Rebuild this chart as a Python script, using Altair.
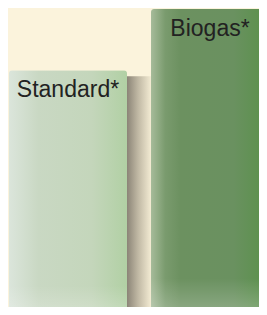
import altair as alt
import pandas as pd

categories = ["Standard*", "Biogas*"]
values = [80, 100]

df = pd.DataFrame({"cat": categories, "value": values})

x = alt.X("cat:N", sort=categories, axis=None,
          scale=alt.Scale(paddingInner=0.169, paddingOuter=0, align=0, range=[1, 261]))
y = alt.Y("value:Q", axis=None,
          scale=alt.Scale(domain=[0, 100], nice=False, range=[307, 1]))

def hgrad(stops):
    return alt.Gradient(gradient="linear", x1=0, y1=0, x2=1, y2=0,
                        stops=[alt.GradientStop(offset=o, color=c) for o, c in stops])

std_grad = hgrad([(0, "#dbe5db"), (0.25, "#c9d8c3"), (0.7, "#c4d6bb"), (1, "#b1d0a4")])
bio_grad = hgrad([(0, "#a6bb9a"), (0.12, "#7a9b6e"), (0.25, "#6c9160"), (0.7, "#6a9160"), (1, "#59914a")])
shadow_grad = hgrad([(0, "#8b8477"), (0.45, "#bfb7a3"), (1, "#f3ebd3")])
fade = alt.Gradient(gradient="linear", x1=0, y1=0, x2=0, y2=1,
                    stops=[alt.GradientStop(offset=0, color="rgba(255,255,255,0)"),
                           alt.GradientStop(offset=0.88, color="rgba(255,255,255,0)"),
                           alt.GradientStop(offset=1, color="rgba(255,255,255,0.25)")])

base = alt.Chart(df).encode(x=x, y=y)

shadow = base.transform_filter(alt.datum.cat == "Standard*").mark_bar(
    width=24, xOffset=71, yOffset=6, color=shadow_grad)

std = base.transform_filter(alt.datum.cat == "Standard*").mark_bar(
    color=std_grad, cornerRadiusTopLeft=3, cornerRadiusTopRight=3)
bio = base.transform_filter(alt.datum.cat == "Biogas*").mark_bar(
    color=bio_grad, cornerRadiusTopLeft=3, cornerRadiusTopRight=3)
overlay = base.mark_bar(color=fade, cornerRadiusTopLeft=3, cornerRadiusTopRight=3)

labels = base.mark_text(baseline="alphabetic", align="center", dy=26.5,
                        font="Liberation Sans", fontSize=23, color="#222222").encode(
    text="cat:N")

chart = alt.layer(shadow, std, bio, overlay, labels).properties(
    width=251, height=299, padding=0, autosize=alt.AutoSizeParams(type="none"),
    background="#fbf3dc"
).configure_view(stroke=None)

chart.save("out.html", embed_options={"renderer": "svg", "actions": False})
